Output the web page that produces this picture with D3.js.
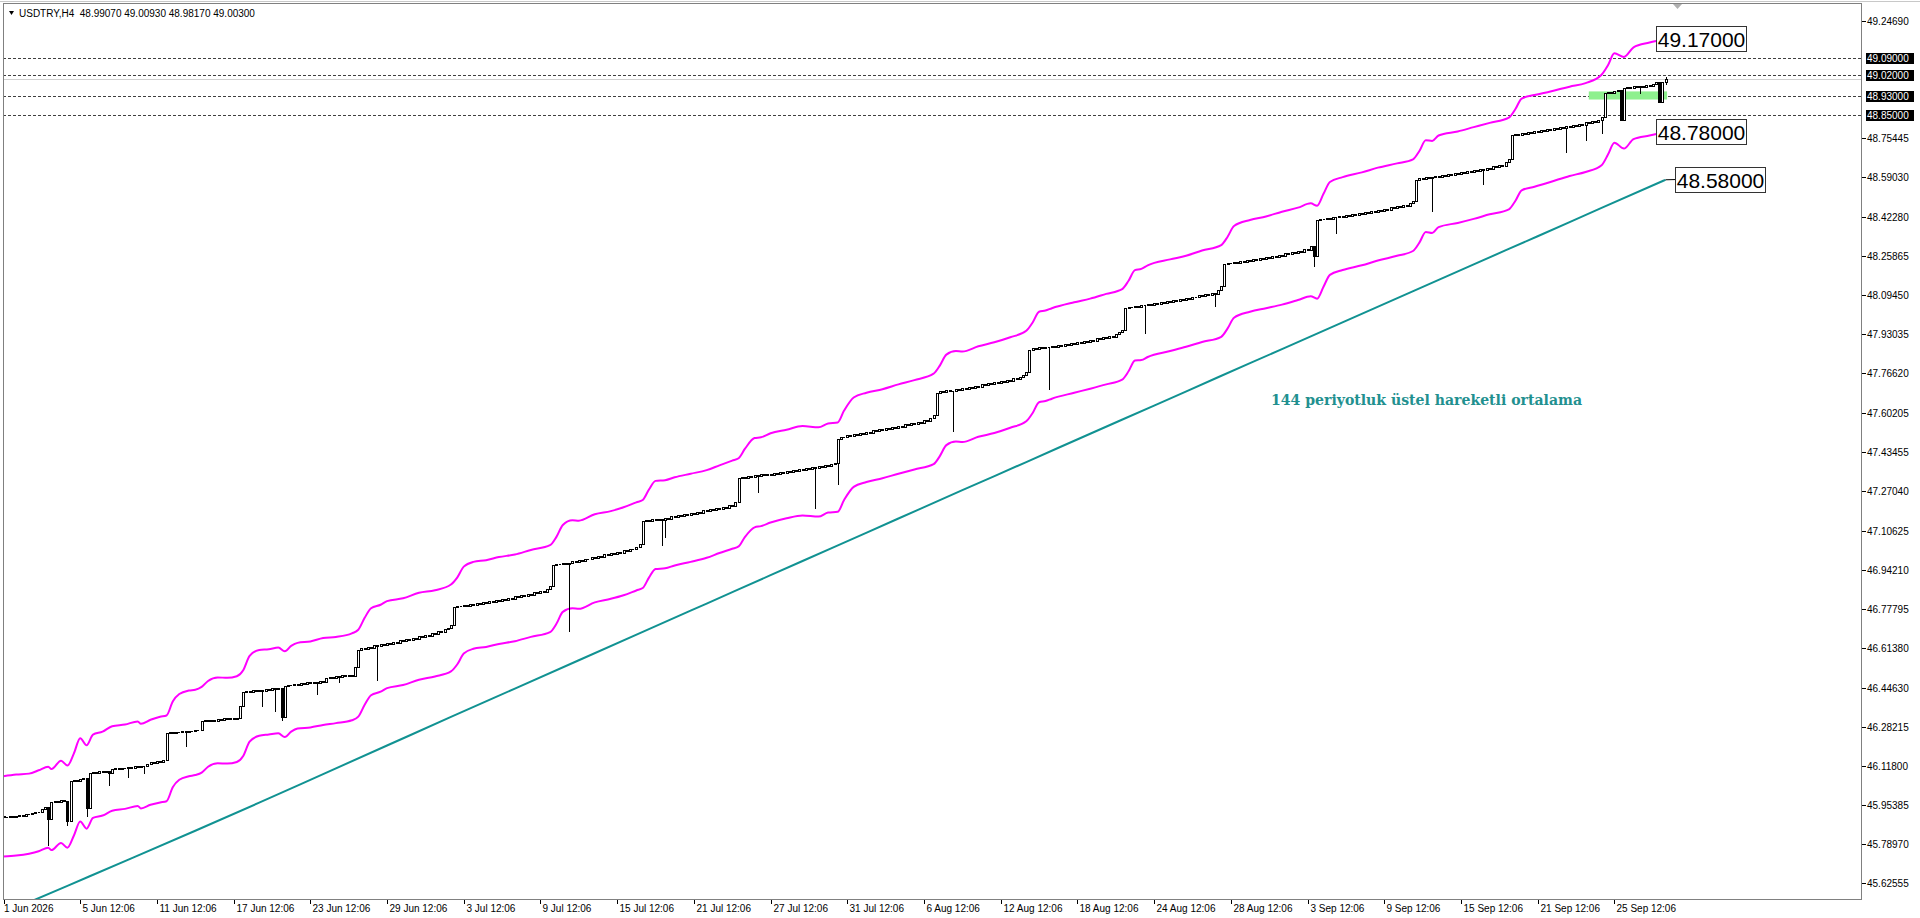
<!DOCTYPE html>
<html><head><meta charset="utf-8">
<script src="https://cdn.jsdelivr.net/npm/d3@7/dist/d3.min.js"></script>
<style>html,body{margin:0;padding:0;background:#fff;overflow:hidden}</style>
</head><body>
<svg id="c" width="1920" height="918" xmlns="http://www.w3.org/2000/svg"></svg>
<script>
// ---------------- DATA ----------------
const symbolTitle = "USDTRY,H4  48.99070 49.00930 48.98170 49.00300";
const firstOpen = 45.910;
// H4 closes, one per bar (bar 0 = 1 Jun 2026)
const closes = [
 45.905,45.902,45.907,45.904,45.910,45.913,45.909,45.918,45.915,45.921,45.926,45.923,45.936,45.944,45.895,45.966,45.970,45.967,45.975,45.972,45.888,
 46.055,46.060,46.057,46.063,46.066,45.940,46.088,46.092,46.089,46.096,46.093,46.098,46.090,46.104,46.108,46.105,46.111,46.108,46.114,46.110,46.117,46.114,46.120,46.117,46.128,46.134,46.131,46.139,46.136,46.142,
 46.255,46.259,46.256,46.262,46.259,46.266,46.260,46.267,46.264,46.270,46.268,46.305,46.311,46.307,46.313,46.309,46.316,46.312,46.318,46.314,46.320,46.316,46.321,
 46.368,46.428,46.433,46.430,46.436,46.432,46.439,46.434,46.441,46.437,46.444,46.440,46.447,46.325,46.455,46.460,46.457,46.463,46.459,46.466,46.462,46.469,46.465,46.472,46.468,46.475,46.471,46.488,46.493,46.489,46.496,46.492,46.498,46.494,46.500,46.496,46.535,
 46.605,46.614,46.610,46.619,46.615,46.624,46.620,46.629,46.625,46.634,46.630,46.639,46.635,46.645,46.641,46.651,46.647,46.657,46.653,46.663,46.659,46.669,46.665,46.676,46.672,46.683,46.679,46.692,46.699,46.712,
 46.785,46.791,46.788,46.795,46.791,46.799,46.795,46.803,46.799,46.807,46.803,46.811,46.807,46.815,46.811,46.820,46.816,46.825,46.821,46.830,46.826,46.835,46.831,46.841,46.837,46.847,46.843,46.853,46.849,46.861,46.872,
 46.960,46.968,46.964,46.972,46.968,46.970,46.979,46.975,46.984,46.980,46.989,46.985,46.994,46.990,47.000,46.996,47.006,47.002,47.012,47.008,47.018,47.014,47.024,47.020,47.030,47.027,47.038,47.050,
 47.145,47.151,47.148,47.155,47.151,47.155,47.150,47.161,47.157,47.166,47.162,47.171,47.167,47.176,47.172,47.181,47.177,47.186,47.182,47.191,47.187,47.196,47.192,47.201,47.197,47.207,47.203,47.213,47.209,47.228,
 47.325,47.331,47.328,47.335,47.331,47.338,47.334,47.342,47.338,47.345,47.341,47.349,47.345,47.352,47.348,47.356,47.352,47.360,47.356,47.364,47.360,47.368,47.364,47.372,47.370,47.376,47.372,47.380,47.377,47.385,47.392,
 47.490,47.501,47.498,47.507,47.503,47.512,47.508,47.517,47.513,47.522,47.518,47.527,47.523,47.532,47.528,47.537,47.533,47.542,47.538,47.547,47.543,47.552,47.548,47.557,47.553,47.563,47.559,47.569,47.566,47.578,47.592,
 47.685,47.691,47.688,47.695,47.691,47.693,47.700,47.696,47.705,47.701,47.710,47.706,47.715,47.711,47.720,47.716,47.725,47.721,47.730,47.726,47.735,47.731,47.740,47.736,47.746,47.742,47.752,47.761,47.772,
 47.865,47.871,47.868,47.875,47.871,47.879,47.876,47.883,47.879,47.887,47.883,47.891,47.887,47.895,47.891,47.899,47.895,47.903,47.899,47.908,47.904,47.913,47.909,47.918,47.914,47.924,47.920,47.931,47.939,47.948,
 48.040,48.047,48.044,48.051,48.047,48.055,48.052,48.059,48.055,48.063,48.059,48.067,48.063,48.071,48.067,48.075,48.071,48.079,48.075,48.084,48.080,48.089,48.085,48.094,48.090,48.099,48.095,48.105,48.101,48.118,48.132,
 48.225,48.231,48.228,48.235,48.231,48.239,48.235,48.243,48.239,48.247,48.243,48.251,48.247,48.255,48.251,48.260,48.256,48.265,48.261,48.270,48.266,48.275,48.271,48.281,48.277,48.287,48.284,48.300,48.260,
 48.410,48.416,48.413,48.420,48.416,48.424,48.421,48.428,48.424,48.432,48.428,48.436,48.432,48.440,48.436,48.444,48.440,48.448,48.444,48.453,48.449,48.458,48.454,48.463,48.459,48.468,48.464,48.474,48.470,48.480,48.492,
 48.580,48.586,48.583,48.590,48.586,48.590,48.594,48.590,48.598,48.594,48.602,48.598,48.606,48.602,48.610,48.606,48.614,48.610,48.619,48.615,48.624,48.620,48.629,48.625,48.635,48.631,48.641,48.638,48.652,48.667,
 48.765,48.771,48.768,48.775,48.771,48.779,48.775,48.783,48.779,48.787,48.783,48.791,48.787,48.795,48.791,48.800,48.796,48.805,48.801,48.810,48.806,48.815,48.811,48.820,48.816,48.826,48.822,48.832,48.842,
 48.942,48.948,48.945,48.952,48.955,48.830,48.963,48.968,48.965,48.971,48.967,48.974,48.970,48.977,48.974,48.983,48.990,48.906,48.9907,49.003
];
// long lower shadows [bar, low]
const wickLows = [[14,45.787],[20,45.870],[26,45.910],[33,46.040],[39,46.070],[44,46.090],[57,46.200],[81,46.370],[85,46.350],[87,46.311],[98,46.420],[105,46.470],[117,46.480],[177,46.686],[206,47.046],[207,47.080],[236,47.270],[254,47.200],[261,47.300],[297,47.524],[327,47.699],[357,47.935],[379,48.050],[410,48.215],[417,48.357],[447,48.450],[463,48.560],[489,48.697],[495,48.746],[500,48.776],[512,48.945],[520,48.9817]];
const wickHighs = [[520,49.0093]];

// envelope bands: [bar, upper, lower]
const envelope = [
 [0,46.075,45.738],[4,46.082,45.742],[8,46.086,45.750],[11,46.100,45.760],[14,46.115,45.775],[15,46.105,45.765],[18,46.140,45.795],[20,46.120,45.775],
 [22,46.170,45.825],[24,46.235,45.885],[26,46.205,45.855],[28,46.250,45.900],[31,46.262,45.910],[34,46.285,45.930],[38,46.292,45.938],[42,46.305,45.950],[43,46.295,45.940],[46,46.312,45.955],[49,46.325,45.965],
 [51,46.330,45.970],[53,46.390,46.030],[55,46.420,46.060],[58,46.435,46.075],[60,46.438,46.080],[62,46.450,46.090],[64,46.475,46.115],[67,46.490,46.130],[70,46.488,46.128],[73,46.495,46.135],
 [75,46.520,46.160],[77,46.580,46.220],[80,46.605,46.245],[83,46.608,46.250],[86,46.615,46.255],[88,46.600,46.240],[90,46.622,46.262],[92,46.635,46.275],[96,46.641,46.280],[100,46.655,46.290],[104,46.660,46.298],[109,46.675,46.310],
 [111,46.690,46.325],[113,46.740,46.375],[115,46.780,46.415],[118,46.795,46.430],[120,46.810,46.445],[125,46.822,46.458],[130,46.845,46.480],[135,46.856,46.494],[140,46.880,46.515],
 [142,46.910,46.545],[144,46.955,46.590],[147,46.975,46.610],[151,46.982,46.618],[155,46.995,46.630],[160,47.006,46.642],[165,47.025,46.660],[171,47.045,46.680],
 [173,47.080,46.715],[175,47.130,46.765],[178,47.150,46.780],[180,47.148,46.778],[185,47.175,46.805],[190,47.188,46.820],[194,47.204,46.835],[198,47.225,46.855],
 [200,47.235,46.865],[202,47.280,46.910],[204,47.315,46.945],[207,47.318,46.948],[210,47.330,46.960],[215,47.345,46.975],[220,47.360,46.992],[224,47.380,47.012],[228,47.400,47.030],
 [230,47.410,47.040],[232,47.450,47.080],[235,47.495,47.120],[237,47.498,47.125],[240,47.515,47.140],[245,47.530,47.158],[250,47.545,47.170],[255,47.540,47.165],[258,47.556,47.182],
 [261,47.560,47.185],[263,47.610,47.235],[266,47.665,47.290],[270,47.685,47.310],[275,47.700,47.326],[280,47.720,47.345],[285,47.738,47.363],[291,47.765,47.385],
 [293,47.800,47.420],[295,47.845,47.465],[298,47.860,47.480],[300,47.858,47.478],[305,47.880,47.500],[310,47.897,47.516],[315,47.918,47.538],[320,47.945,47.565],
 [322,47.980,47.600],[324,48.025,47.645],[326,48.030,47.650],[328,48.040,47.660],[335,48.065,47.685],[340,48.080,47.702],[345,48.100,47.720],[350,48.120,47.740],
 [352,48.155,47.775],[354,48.200,47.820],[356,48.205,47.822],[358,48.220,47.835],[365,48.245,47.860],[370,48.260,47.878],[375,48.282,47.898],[381,48.305,47.920],
 [383,48.340,47.955],[385,48.385,48.000],[390,48.410,48.025],[395,48.425,48.040],[400,48.445,48.055],[405,48.462,48.074],[409,48.480,48.090],
 [411,48.470,48.080],[413,48.520,48.130],[415,48.570,48.180],[419,48.590,48.200],[425,48.610,48.220],[430,48.630,48.240],[436,48.648,48.260],[441,48.665,48.280],
 [443,48.700,48.315],[445,48.745,48.360],[447,48.742,48.356],[449,48.765,48.380],[455,48.782,48.398],[460,48.800,48.415],[465,48.818,48.434],[471,48.840,48.455],
 [473,48.875,48.490],[475,48.920,48.535],[479,48.935,48.550],[484,48.950,48.570],[490,48.970,48.595],[495,48.985,48.612],[500,49.020,48.640],
 [502,49.060,48.685],[504,49.110,48.735],[507,49.095,48.710],[510,49.135,48.750],[515,49.155,48.765],[520,49.170,48.780]
];

// 144-period EMA read at sample bars
const emaBars = [0,20,40,60,80,100,120,140,160,180,200,220,240,260,280,300,320,340,360,380,400,420,440,460,480,500,520];
const emaVals = [45.500,45.615,45.730,45.846,45.964,46.084,46.204,46.324,46.443,46.562,46.681,46.800,46.919,47.038,47.157,47.276,47.394,47.513,47.631,47.750,47.868,47.987,48.105,48.224,48.342,48.461,48.579];

const yTickValues = [49.24690,48.75445,48.59030,48.42280,48.25865,48.09450,47.93035,47.76620,47.60205,47.43455,47.27040,47.10625,46.94210,46.77795,46.61380,46.44630,46.28215,46.11800,45.95385,45.78970,45.62555];
const xTickBars   = [0,24,48,72,96,120,144,168,192,216,240,264,288,312,336,360,384,408,432,456,480,504];
const xTickLabels = ["1 Jun 2026","5 Jun 12:06","11 Jun 12:06","17 Jun 12:06","23 Jun 12:06","29 Jun 12:06","3 Jul 12:06","9 Jul 12:06","15 Jul 12:06","21 Jul 12:06","27 Jul 12:06","31 Jul 12:06","6 Aug 12:06","12 Aug 12:06","18 Aug 12:06","24 Aug 12:06","28 Aug 12:06","3 Sep 12:06","9 Sep 12:06","15 Sep 12:06","21 Sep 12:06","25 Sep 12:06"];

const levelLines = [49.09, 49.02, 48.93, 48.85];
const bidPrice = 49.003;
const zone = {bar0: 496, bar1: 520.5, top: 48.950, bottom: 48.916};
const priceTags = [49.17, 48.78, 48.58];
const annotation = "144 periyotluk üstel hareketli ortalama";

// ---------------- DRAW ----------------
const W = 1920, H = 918;
const L = 3, R = 1862, T = 3, B = 900;
const svg = d3.select("#c");
const font = "'Liberation Sans', Arial, sans-serif";

const x = d3.scaleLinear().domain([0, 520]).range([3.5, 1665.5]);
const y = d3.scaleLinear().domain([45.62555, 49.2469]).range([883.3, 20.7]);

svg.append("defs").append("clipPath").attr("id","plot")
  .append("rect").attr("x",L).attr("y",T).attr("width",R-L).attr("height",B-T);

const plot = svg.append("g").attr("clip-path","url(#plot)");

// bid line
plot.append("line").attr("x1",L).attr("x2",R)
  .attr("y1",Math.round(y(bidPrice))+0.5).attr("y2",Math.round(y(bidPrice))+0.5)
  .attr("stroke","#d0d0d0").attr("stroke-width",1).attr("shape-rendering","crispEdges");

// horizontal level lines
plot.selectAll("line.lvl").data(levelLines).join("line").attr("class","lvl")
  .attr("x1",L).attr("x2",R)
  .attr("y1",d=>Math.round(y(d))+0.5).attr("y2",d=>Math.round(y(d))+0.5)
  .attr("stroke","#404040").attr("stroke-width",1).attr("stroke-dasharray","3,2")
  .attr("shape-rendering","crispEdges");

// green zone
plot.append("rect")
  .attr("x",x(zone.bar0)).attr("width",x(zone.bar1)-x(zone.bar0))
  .attr("y",y(zone.top)).attr("height",y(zone.bottom)-y(zone.top))
  .attr("fill","#8ef08e");

// EMA
const emaPts = emaBars.map((b,i)=>[b,emaVals[i]]);
plot.append("path").datum(emaPts)
  .attr("d", d3.line().x(d=>x(d[0])).y(d=>y(d[1])).curve(d3.curveMonotoneX))
  .attr("fill","none").attr("stroke","#119292").attr("stroke-width",2);

// envelope bands
const bandUp = d3.line().x(d=>x(d[0])).y(d=>y(d[1])).curve(d3.curveMonotoneX);
const bandLo = d3.line().x(d=>x(d[0])).y(d=>y(d[2])).curve(d3.curveMonotoneX);
[bandUp, bandLo].forEach(gen=>{
  plot.append("path").datum(envelope).attr("d",gen)
    .attr("fill","none").attr("stroke","#ff00ff").attr("stroke-width",2);
});

// candles
const lowMap = new Map(wickLows), highMap = new Map(wickHighs);
const bars = closes.map((c,i)=>{
  const o = i===0 ? firstOpen : closes[i-1];
  const hi = highMap.has(i) ? highMap.get(i) : Math.max(o,c);
  const lo = lowMap.has(i) ? lowMap.get(i) : Math.min(o,c);
  return {i,o,c,hi,lo};
});
const cg = plot.append("g").attr("shape-rendering","crispEdges");
bars.forEach(b=>{
  const cx = Math.round(x(b.i)) + 0.5;
  const yh = Math.round(y(b.hi)), yl = Math.round(y(b.lo));
  if (yl - yh >= 1) {
    cg.append("line").attr("x1",cx).attr("x2",cx).attr("y1",yh).attr("y2",yl+1)
      .attr("stroke","#000").attr("stroke-width",1);
  }
  const yo = Math.round(y(b.o)), yc = Math.round(y(b.c));
  const top = Math.min(yo,yc), h = Math.abs(yo-yc);
  if (h < 1) {
    cg.append("line").attr("x1",cx-1.5).attr("x2",cx+0.5).attr("y1",top+0.5).attr("y2",top+0.5)
      .attr("stroke","#000").attr("stroke-width",1);
  } else {
    cg.append("rect").attr("x",cx-1).attr("y",top+0.5).attr("width",2).attr("height",h)
      .attr("fill", b.c >= b.o ? "#fff" : "#000").attr("stroke","#000").attr("stroke-width",1);
  }
});

// annotation
svg.append("text").attr("x",1271).attr("y",405)
  .attr("font-family","'DejaVu Serif', serif").attr("font-size",15).attr("font-weight","bold")
  .attr("textLength",311).attr("lengthAdjust","spacingAndGlyphs")
  .attr("fill","#22908f").text(annotation);

// price tags (band ends & EMA end)
const lastEnv = envelope[envelope.length-1];
const tagSpec = [
  {v: priceTags[0], from: [lastEnv[0], lastEnv[1]], bx: 1656},
  {v: priceTags[1], from: [lastEnv[0], lastEnv[2]], bx: 1656},
  {v: priceTags[2], from: [emaBars[emaBars.length-1], emaVals[emaVals.length-1]], bx: 1675}
];
tagSpec.forEach(t=>{
  const cy = y(t.v);
  svg.append("line").attr("x1",x(t.from[0])).attr("y1",y(t.from[1])).attr("x2",t.bx).attr("y2",cy)
    .attr("stroke","#000").attr("stroke-width",1);
  svg.append("rect").attr("x",t.bx+0.5).attr("y",Math.round(cy-13)+0.5).attr("width",90).attr("height",25)
    .attr("fill","#fff").attr("stroke","#333").attr("stroke-width",1);
  svg.append("text").attr("x",t.bx+45.5).attr("y",Math.round(cy)+8)
    .attr("text-anchor","middle").attr("font-family",font).attr("font-size",21)
    .attr("fill","#000").text(t.v.toFixed(5));
});

// frame
svg.append("rect").attr("x",L+0.5).attr("y",T+0.5).attr("width",R-L-1).attr("height",B-T-1)
  .attr("fill","none").attr("stroke","#808080").attr("stroke-width",1).attr("shape-rendering","crispEdges");
svg.append("line").attr("x1",0).attr("x2",W).attr("y1",1.5).attr("y2",1.5)
  .attr("stroke","#c8c8c8").attr("stroke-width",1);

// shift marker
svg.append("path").attr("d","M1673,4 L1682,4 L1677.5,9 Z").attr("fill","#b0b0b0");

// title
svg.append("path").attr("d","M9,11 L14,11 L11.5,15 Z").attr("fill","#000");
svg.append("text").attr("x",19).attr("y",17).attr("font-family",font).attr("font-size",10)
  .attr("fill","#000").attr("xml:space","preserve").style("white-space","pre").text(symbolTitle);

// right axis
const fmt = d3.format(".5f");
const ya = svg.append("g");
yTickValues.forEach(v=>{
  const yy = Math.round(y(v))+0.5;
  ya.append("line").attr("x1",R).attr("x2",R+4).attr("y1",yy).attr("y2",yy)
    .attr("stroke","#000").attr("shape-rendering","crispEdges");
  ya.append("text").attr("x",R+5).attr("y",yy+3.5).attr("font-family",font).attr("font-size",10)
    .attr("fill","#000").text(fmt(v));
});
// level labels (black boxes)
levelLines.forEach(v=>{
  const yy = Math.round(y(v))+0.5;
  ya.append("rect").attr("x",R+4).attr("y",yy-5.5).attr("width",48).attr("height",11).attr("fill","#000");
  ya.append("text").attr("x",R+5).attr("y",yy+3.5).attr("font-family",font).attr("font-size",10)
    .attr("fill","#fff").text(fmt(v));
});

// bottom axis
const xa = svg.append("g");
xTickBars.forEach((b,i)=>{
  const xx = Math.round(x(b))+0.5;
  xa.append("line").attr("x1",xx).attr("x2",xx).attr("y1",B).attr("y2",B+4)
    .attr("stroke","#000").attr("shape-rendering","crispEdges");
  xa.append("text").attr("x",i===0 ? 4 : xx+2).attr("y",B+12).attr("font-family",font).attr("font-size",10)
    .attr("fill","#000").text(xTickLabels[i]);
});
</script>
</body></html>
